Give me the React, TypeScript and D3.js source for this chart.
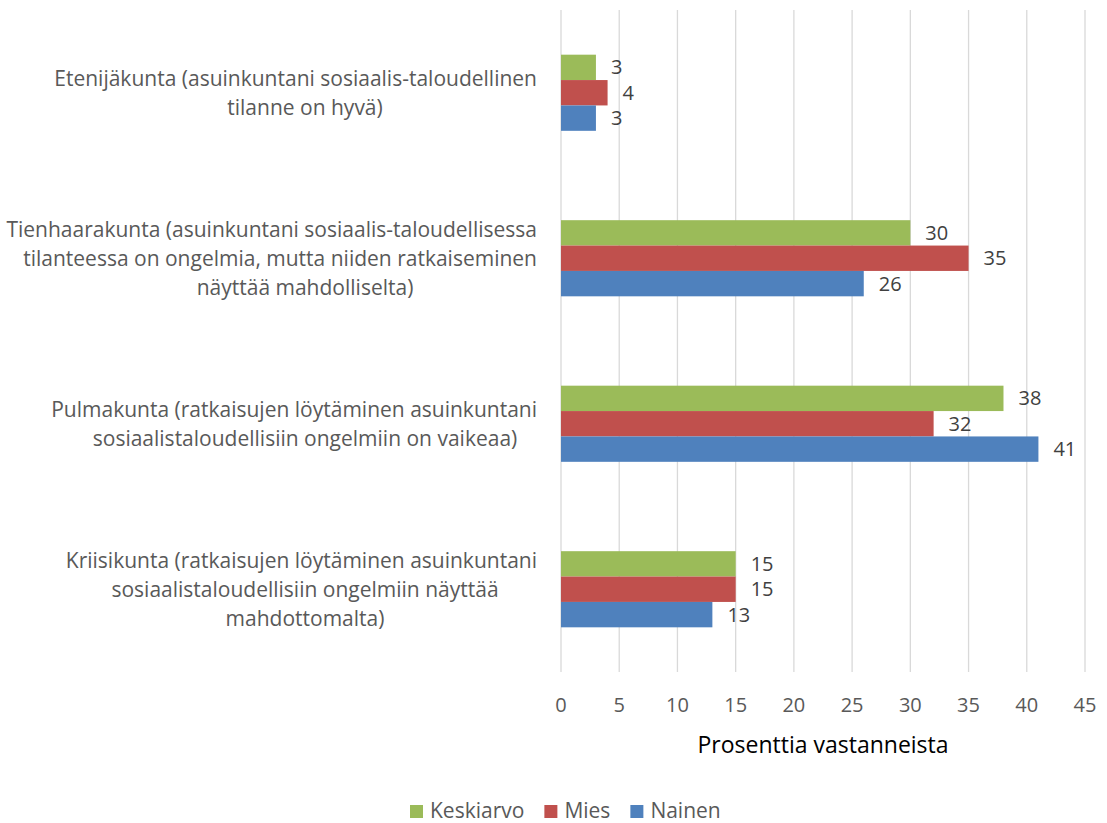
import React, { useEffect, useRef } from "react";
import * as d3 from "d3";

const categories = [
  "Etenijäkunta (asuinkuntani sosiaalis-taloudellinen|tilanne on hyvä)",
  "Tienhaarakunta (asuinkuntani sosiaalis-taloudellisessa|tilanteessa on ongelmia, mutta niiden ratkaiseminen|näyttää mahdolliselta)",
  "Pulmakunta (ratkaisujen löytäminen asuinkuntani|sosiaalistaloudellisiin ongelmiin on vaikeaa)",
  "Kriisikunta (ratkaisujen löytäminen asuinkuntani|sosiaalistaloudellisiin ongelmiin näyttää|mahdottomalta)",
];
const seriesNames = ["Keskiarvo", "Mies", "Nainen"];
const keskiarvo = [3, 30, 38, 15];
const mies = [4, 35, 32, 15];
const nainen = [3, 26, 41, 13];
const seriesValues = [keskiarvo, mies, nainen];
const seriesColors = ["#9BBB59", "#C0504D", "#4F81BD"];
const xTicks = [0, 5, 10, 15, 20, 25, 30, 35, 40, 45];
const xTitle = "Prosenttia vastanneista";

const FONT = "'Open Sans', Lato, sans-serif";

export default function App() {
  const ref = useRef<SVGSVGElement | null>(null);

  useEffect(() => {
    const svg = d3.select(ref.current);
    svg.selectAll("*").remove();

    const x = d3.scaleLinear().domain([0, 45]).range([561, 1085]);
    const y = d3
      .scaleBand<number>()
      .domain(categories.map((_, i) => i))
      .range([10, 672])
      .paddingInner(0.54)
      .paddingOuter(0.27);
    const ys = d3
      .scaleBand<number>()
      .domain(seriesNames.map((_, i) => i))
      .range([0, y.bandwidth()]);

    // gridlines
    svg
      .append("g")
      .selectAll("line")
      .data(xTicks)
      .join("line")
      .attr("x1", (d) => x(d))
      .attr("x2", (d) => x(d))
      .attr("y1", 10)
      .attr("y2", 672)
      .attr("stroke", "#d9d9d9")
      .attr("stroke-width", 1.3);

    // bars
    seriesValues.forEach((vals, s) => {
      const g = svg.append("g");
      g.selectAll("rect")
        .data(vals)
        .join("rect")
        .attr("x", x(0))
        .attr("y", (_, i) => (y(i) as number) + (ys(s) as number))
        .attr("width", (d) => x(d) - x(0))
        .attr("height", ys.bandwidth())
        .attr("fill", seriesColors[s]);
      g.selectAll("text")
        .data(vals)
        .join("text")
        .attr("x", (d) => x(d) + 15)
        .attr("y", (_, i) => (y(i) as number) + (ys(s) as number) + ys.bandwidth() / 2)
        .attr("dy", "0.35em")
        .attr("font-family", FONT)
        .attr("font-size", 20)
        .attr("fill", "#404040")
        .text((d) => String(d));
    });

    // category labels
    const lineH = 29;
    categories.forEach((c, i) => {
      const lines = c.split("|");
      const cy = (y(i) as number) + y.bandwidth() / 2;
      lines.forEach((ln, j) => {
        const t = svg
          .append("text")
          .attr("font-family", FONT)
          .attr("font-size", 21)
          .attr("fill", "#595959")
          .attr("text-anchor", "middle")
          .attr("y", cy + (j - (lines.length - 1) / 2) * lineH)
          .attr("dy", "0.35em")
          .text(ln);
        const w = (t.node() as SVGTextElement).getComputedTextLength();
        t.attr("x", Math.min(305, 537 - w / 2));
      });
    });

    // tick labels
    svg
      .append("g")
      .selectAll("text")
      .data(xTicks)
      .join("text")
      .attr("x", (d) => x(d))
      .attr("y", 705)
      .attr("dy", "0.35em")
      .attr("text-anchor", "middle")
      .attr("font-family", FONT)
      .attr("font-size", 20)
      .attr("fill", "#595959")
      .text((d) => String(d));

    svg
      .append("text")
      .attr("x", (x(0) + x(45)) / 2)
      .attr("y", 745)
      .attr("dy", "0.35em")
      .attr("text-anchor", "middle")
      .attr("font-family", FONT)
      .attr("font-size", 23)
      .attr("fill", "#000000")
      .text(xTitle);

    // legend
    const lg = svg.append("g");
    let lx = 410;
    seriesNames.forEach((n, s) => {
      lg.append("rect")
        .attr("x", lx)
        .attr("y", 805)
        .attr("width", 13)
        .attr("height", 13)
        .attr("fill", seriesColors[s]);
      const t = lg
        .append("text")
        .attr("x", lx + 20)
        .attr("y", 811)
        .attr("dy", "0.35em")
        .attr("font-family", FONT)
        .attr("font-size", 21)
        .attr("fill", "#595959")
        .text(n);
      const w = (t.node() as SVGTextElement).getComputedTextLength();
      lx += 20 + w + 20;
    });
  }, []);

  return (
    <svg
      ref={ref}
      width={1107}
      height={823}
      style={{ position: "absolute", left: 0, top: 0, background: "#fff" }}
    />
  );
}
